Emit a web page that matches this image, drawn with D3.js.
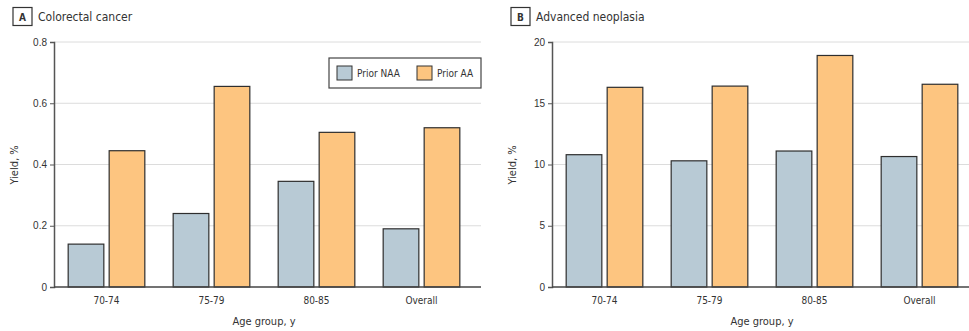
<!DOCTYPE html>
<html>
<head>
<meta charset="utf-8">
<script src="https://cdn.jsdelivr.net/npm/d3@7"></script>
<style>
  body { margin: 0; background: #fff; }
  svg { display: block; font-family: "Liberation Sans Narrow", "DejaVu Sans Condensed", Arial, sans-serif; }
  .tick text { fill: #333; font-size: 10px; }
</style>
</head>
<body>
<svg width="969" height="331"></svg>
<script>
var ageGroups = ['70-74', '75-79', '80-85', 'Overall'];
var seriesNames = ['Prior NAA', 'Prior AA'];
var seriesColors = ['#b8cad5', '#fdc580'];

var crcNAA = [0.14, 0.24, 0.345, 0.19];
var crcAA = [0.445, 0.655, 0.505, 0.52];
var crcTicks = [0, 0.2, 0.4, 0.6, 0.8];

var anNAA = [10.8, 10.3, 11.1, 10.65];
var anAA = [16.3, 16.4, 18.9, 16.55];
var anTicks = [0, 5, 10, 15, 20];

var svg = d3.select('svg');

var drawPanel = function(opts) {
  var g = svg.append('g');
  var x = d3.scaleBand().domain(ageGroups).range([opts.left, opts.right])
            .paddingInner(0.27).paddingOuter(0.135);
  var xs = d3.scaleBand().domain(seriesNames).range([0, x.bandwidth()]).paddingInner(0.13);
  var y = d3.scaleLinear().domain([0, opts.max]).range([287, 42]);

  // gridlines
  g.selectAll('line.grid')
   .data(opts.ticks.slice(1))
   .enter().append('line')
     .attr('x1', opts.left)
     .attr('x2', opts.gridRight)
     .attr('y1', function(d) { return y(d); })
     .attr('y2', function(d) { return y(d); })
     .attr('stroke', '#dcdcdc')
     .attr('stroke-width', 1);

  // bars
  var rows = ageGroups.map(function(a, i) {
    return [{ group: a, s: 0, v: opts.naa[i] }, { group: a, s: 1, v: opts.aa[i] }];
  });
  g.selectAll('g.grp')
   .data(rows)
   .enter().append('g')
     .attr('transform', function(d) { return 'translate(' + x(d[0].group) + ',0)'; })
   .selectAll('rect')
   .data(function(d) { return d; })
   .enter().append('rect')
     .attr('x', function(d) { return xs(seriesNames[d.s]); })
     .attr('y', function(d) { return y(d.v); })
     .attr('width', xs.bandwidth())
     .attr('height', function(d) { return y(0) - y(d.v); })
     .attr('fill', function(d) { return seriesColors[d.s]; })
     .attr('stroke', '#2e2e2e')
     .attr('stroke-width', 1.2);

  // y axis
  var yAxis = g.append('g')
    .attr('transform', 'translate(' + opts.left + ',0)')
    .call(d3.axisLeft(y).tickValues(opts.ticks).tickSize(4).tickPadding(3)
      .tickFormat(function(d) { return d === 0 ? '0' : opts.fmt(d); }));
  yAxis.select('.domain').attr('stroke', '#555').attr('stroke-width', 1.5);
  yAxis.selectAll('.tick line').attr('stroke', '#555');

  // baseline
  g.append('line')
   .attr('x1', opts.left).attr('x2', opts.gridRight)
   .attr('y1', y(0)).attr('y2', y(0))
   .attr('stroke', '#444').attr('stroke-width', 1.5);

  // x labels
  g.selectAll('text.xl')
   .data(ageGroups)
   .enter().append('text')
     .attr('x', function(d) { return x(d) + x.bandwidth() / 2; })
     .attr('y', 304)
     .attr('text-anchor', 'middle')
     .attr('font-size', 10)
     .attr('fill', '#333')
     .text(function(d) { return d; });

  g.append('text')
   .attr('x', (opts.left + opts.right) / 2)
   .attr('y', 325)
   .attr('text-anchor', 'middle')
   .attr('font-size', 11)
   .attr('fill', '#333')
   .text('Age group, y');

  g.append('text')
   .attr('transform', 'translate(' + (opts.left - 36) + ',165) rotate(-90)')
   .attr('text-anchor', 'middle')
   .attr('font-size', 11)
   .attr('fill', '#333')
   .text('Yield, %');

  // panel title
  g.append('rect')
   .attr('x', opts.left - 41).attr('y', 7.5)
   .attr('width', 19).attr('height', 18)
   .attr('fill', '#fff').attr('stroke', '#333').attr('stroke-width', 1.2);
  g.append('text')
   .attr('x', opts.left - 31.5).attr('y', 20.5)
   .attr('text-anchor', 'middle')
   .attr('font-size', 10).attr('font-weight', 'bold')
   .attr('fill', '#333')
   .text(opts.letter);
  g.append('text')
   .attr('x', opts.left - 16).attr('y', 21)
   .attr('font-size', 12)
   .attr('fill', '#333')
   .text(opts.title);

  return g;
};

drawPanel({ left: 54, right: 474, gridRight: 481, max: 0.8, ticks: crcTicks,
  naa: crcNAA, aa: crcAA, fmt: d3.format('.1f'), letter: 'A', title: 'Colorectal cancer' });
var gB = drawPanel({ left: 552, right: 972, gridRight: 969, max: 20, ticks: anTicks,
  naa: anNAA, aa: anAA, fmt: d3.format('d'), letter: 'B', title: 'Advanced neoplasia' });

// legend in panel A
var leg = svg.append('g').attr('transform', 'translate(329,58)');
leg.append('rect')
   .attr('width', 152).attr('height', 30)
   .attr('fill', '#fff').attr('stroke', '#444').attr('stroke-width', 1.2);
var items = leg.selectAll('g.item')
   .data(seriesNames)
   .enter().append('g')
     .attr('transform', function(d, i) { return 'translate(' + (8 + i * 80) + ',8)'; });
items.append('rect')
   .attr('width', 15).attr('height', 14)
   .attr('fill', function(d, i) { return seriesColors[i]; })
   .attr('stroke', '#333').attr('stroke-width', 1);
items.append('text')
   .attr('x', 20).attr('y', 11)
   .attr('font-size', 10)
   .attr('fill', '#333')
   .text(function(d) { return d; });
</script>
</body>
</html>
